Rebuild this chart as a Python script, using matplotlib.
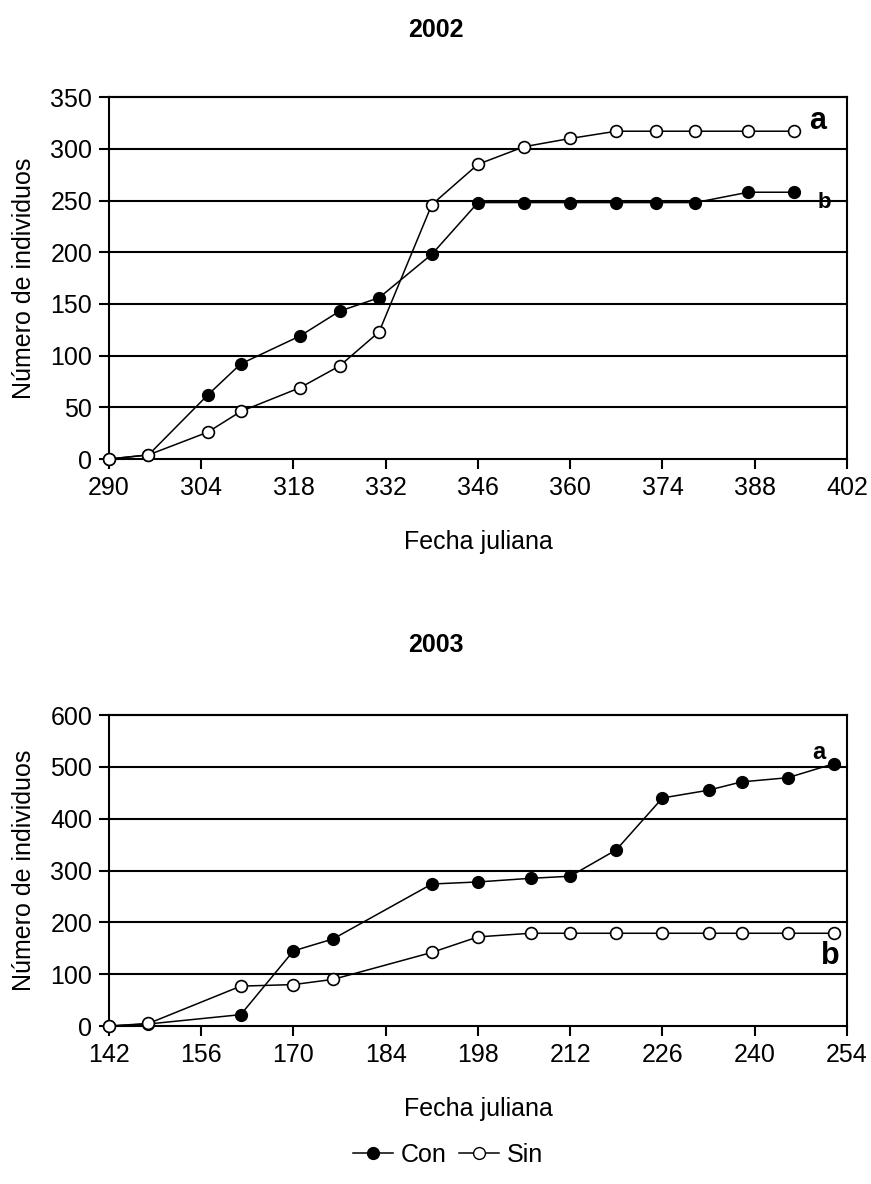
import matplotlib
matplotlib.use("Agg")
import matplotlib.pyplot as plt
from matplotlib.lines import Line2D

plt.rcParams['font.family'] = ['Liberation Sans', 'DejaVu Sans']

# 2002
dias_2002 = [290, 296, 305, 310, 319, 325, 331, 339, 346, 353, 360, 367, 373, 379, 387, 394]
con_2002 = [0, 4, 62, 92, 119, 143, 156, 198, 248, 248, 248, 248, 248, 248, 258, 258]
sin_2002 = [0, 4, 26, 46, 69, 90, 123, 246, 285, 302, 310, 317, 317, 317, 317, 317]

# 2003
dias_2003 = [142, 148, 162, 170, 176, 191, 198, 206, 212, 219, 226, 233, 238, 245, 252]
con_2003 = [0, 4, 22, 145, 168, 274, 278, 285, 289, 340, 440, 455, 471, 479, 506]
sin_2003 = [0, 5, 77, 80, 90, 142, 172, 179, 179, 179, 179, 179, 179, 179, 179]

xticks_2002 = [290, 304, 318, 332, 346, 360, 374, 388, 402]
yticks_2002 = [0, 50, 100, 150, 200, 250, 300, 350]
xticks_2003 = [142, 156, 170, 184, 198, 212, 226, 240, 254]
yticks_2003 = [0, 100, 200, 300, 400, 500, 600]

fig = plt.figure(figsize=(8.71, 11.84), dpi=100)
ax1 = fig.add_axes([0.1251, 0.6123, 0.8473, 0.3057])
ax2 = fig.add_axes([0.1251, 0.1334, 0.8473, 0.2627])

fs = 18


def panel(ax, x, con, sin, xt, yt):
    for y in yt[1:]:
        ax.axhline(y, color='black', lw=1.5, zorder=1)
    ax.plot(x, con, color='black', lw=1.1, marker='o', ms=8.5,
            mfc='black', mec='black', zorder=3)
    ax.plot(x, sin, color='black', lw=1.1, marker='o', ms=8.5,
            mfc='white', mec='black', mew=1.2, zorder=3)
    ax.set_xlim(xt[0], xt[-1])
    ax.set_ylim(yt[0], yt[-1])
    ax.set_xticks(xt)
    ax.set_yticks(yt)
    ax.tick_params(direction='out', length=7, width=1.5, labelsize=fs,
                   pad=5, right=False, top=False)
    for s in ax.spines.values():
        s.set_linewidth(1.5)
    ax.set_xlabel('Fecha juliana', fontsize=fs, labelpad=22)
    ax.set_ylabel('Número de individuos', fontsize=fs, labelpad=10)


panel(ax1, dias_2002, con_2002, sin_2002, xticks_2002, yticks_2002)
panel(ax2, dias_2003, con_2003, sin_2003, xticks_2003, yticks_2003)
for ax in (ax1, ax2):
    for line in ax.get_lines():
        line.set_clip_on(False)

fig.text(436 / 871, 1 - 30 / 1184, '2002', ha='center', va='center',
         fontsize=fs, fontweight='bold')
fig.text(436 / 871, 1 - 645 / 1184, '2003', ha='center', va='center',
         fontsize=fs, fontweight='bold')

ax1.text(397.6, 327, 'a', ha='center', va='center', fontsize=22, fontweight='bold')
ax1.text(398.5, 248, 'b', ha='center', va='center', fontsize=16, fontweight='bold')
ax2.text(249.7, 528, 'a', ha='center', va='center', fontsize=17, fontweight='bold')
ax2.text(251.4, 136, 'b', ha='center', va='center', fontsize=22, fontweight='bold')

handles = [
    Line2D([], [], color='black', lw=1.1, marker='o', ms=8.5, mfc='black', mec='black'),
    Line2D([], [], color='black', lw=1.1, marker='o', ms=8.5, mfc='white', mec='black'),
]
fig.legend(handles, ['Con', 'Sin'], loc='center', bbox_to_anchor=(448 / 871, 1 - 1155 / 1184),
           ncol=2, frameon=False, fontsize=fs, handlelength=1.6, handletextpad=0.3,
           columnspacing=0.5)

fig.savefig('out.png', dpi=100)
